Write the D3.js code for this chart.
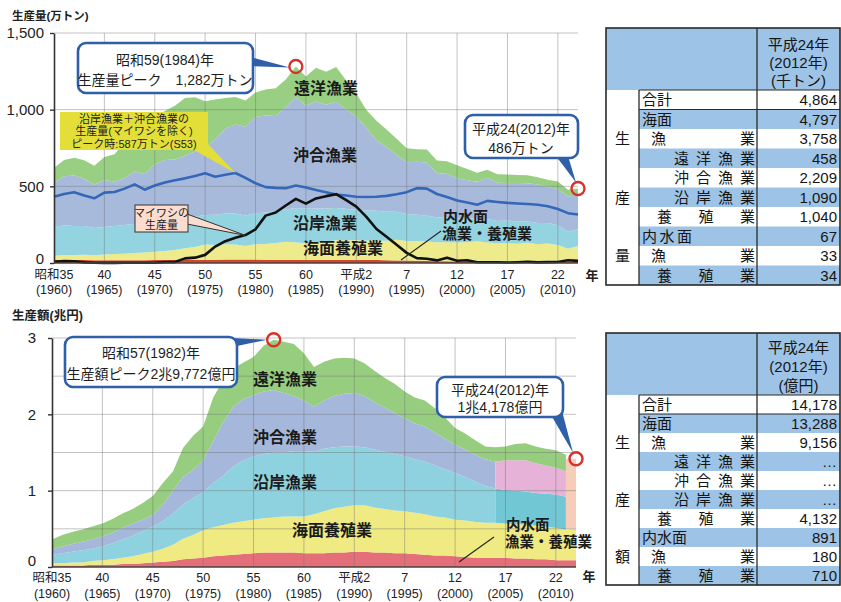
<!DOCTYPE html>
<html lang="ja">
<head>
<meta charset="utf-8">
<title>漁業・養殖業の生産量と生産額</title>
<script src="https://cdn.jsdelivr.net/npm/d3@7/dist/d3.min.js"></script>
<style>
  html, body { margin: 0; padding: 0; background: #fff; }
  svg { display: block; }
</style>
</head>
<body>
<svg id="chart" width="841" height="602"></svg>
<script>
// ===== data =====
const years = [1960,1961,1962,1963,1964,1965,1966,1967,1968,1969,
               1970,1971,1972,1973,1974,1975,1976,1977,1978,1979,
               1980,1981,1982,1983,1984,1985,1986,1987,1988,1989,
               1990,1991,1992,1993,1994,1995,1996,1997,1998,1999,
               2000,2001,2002,2003,2004,2005,2006,2007,2008,2009,
               2010,2011,2012];

const tickYears   = [1960,1965,1970,1975,1980,1985,1990,1995,2000,2005,2010];
const eraLabels   = ["昭和35","40","45","50","55","60","平成2","7","12","17","22"];
const westLabels  = ["(1960)","(1965)","(1970)","(1975)","(1980)","(1985)","(1990)","(1995)","(2000)","(2005)","(2010)"];

// production volume, 10,000 t
const qtyInland      = [19,19,19,19,18,18,18,18,18,18, 19,19,20,21,22,22,22,23,23,23, 23,22,22,22,21,20,20,20,21,21, 21,20,19,18,17,16,15,13,12,11, 10,10,9,9,8,8,8,8,8,7, 7,6,6.7];
const qtyAquaculture = [29,31,33,35,33,37,40,43,48,51, 55,59,64,75,82,98,96,100,97,88, 99,102,109,117,113,109,116,119,127,127, 127,126,127,127,134,127,128,127,123,125, 123,126,133,125,121,121,118,124,115,120, 111,87,104.0];
const qtyCoastal     = [190,195,190,188,178,180,183,187,190,185, 189,192,195,199,197,193,197,200,203,198, 203,205,207,212,223,227,220,217,210,205, 199,196,194,190,184,176,172,170,162,159, 158,154,148,153,145,148,143,141,138,134, 129,112,109.0];
const qtyOffshore    = [284,321,329,308,281,306,289,307,341,327, 379,401,396,405,425,442,491,553,580,580, 627,633,621,666,725,671,698,676,694,648, 608,538,460,422,369,338,345,345,290,285, 261,249,240,267,250,245,253,247,251,235, 236,229,220.9];
const qtyDistant     = [97,105,115,120,125,150,180,230,270,280, 290,320,350,376,355,300,260,200,180,170, 160,170,180,180,200,190,220,215,227,190, 150,118,127,114,106,92,82,86,81,83, 86,74,58,54,54,55,52,52,47,47, 48,43,45.8];
// coastal + offshore excluding sardine, 10,000 t
const qtyExSardine   = [432,450,462,440,422,459,463,485,513,478, 505,525,540,552,568,585,563,575,587,555, 520,495,490,488,505,492,476,462,447,440, 432,430,432,438,448,462,488,485,450,430, 408,395,380,405,398,392,388,385,380,370, 352,325,316];
// Japanese sardine catch, 10,000 t
const qtySardine     = [8,13,11,4,2,1,1,2,2,2, 2,6,6,30,35,53,107,142,164,182, 220,309,329,375,418,387,421,436,449,410, 368,301,222,171,119,66,32,28,17,35, 15,18,5,5,5,3,5,8,4,6, 7,18,14];

// production value, trillion yen (inland and aquaculture to 2012, the others to 2011)
const valInland      = [.02,.02,.02,.02,.03,.03,.03,.04,.04,.05, .06,.07,.08,.10,.11,.12,.14,.15,.16,.17, .18,.19,.19,.19,.19,.18,.18,.18,.19,.19, .20,.20,.19,.19,.18,.18,.17,.16,.15,.15, .14,.13,.12,.12,.12,.12,.11,.11,.10,.10, .09,.09,.0891];
const valAquaculture = [.03,.03,.04,.04,.05,.06,.07,.08,.10,.12, .14,.17,.21,.27,.31,.36,.38,.40,.42,.43, .44,.45,.46,.47,.47,.48,.51,.55,.58,.60, .61,.61,.59,.57,.56,.55,.54,.53,.51,.50, .48,.48,.47,.46,.46,.45,.45,.45,.44,.43, .42,.40,.4132];
const valCoastal     = [.11,.13,.14,.16,.16,.18,.21,.24,.27,.30, .33,.36,.41,.45,.48,.50,.58,.65,.74,.80, .83,.84,.85,.84,.86,.86,.82,.82,.80,.79, .77,.76,.76,.75,.74,.72,.70,.69,.67,.63, .61,.57,.53,.48,.45,.44,.44,.43,.43,.43, .44,.43];
const valOffshore    = [.07,.09,.10,.11,.12,.13,.14,.15,.16,.15, .15,.22,.30,.36,.37,.42,.55,.70,.78,.80, .80,.82,.82,.78,.72,.66,.59,.63,.67,.69, .70,.67,.62,.58,.54,.50,.47,.46,.43,.40, .37,.36,.35,.35,.35,.39,.40,.41,.39,.37, .35,.33];
const valDistant     = [.13,.15,.16,.16,.17,.17,.18,.19,.19,.22, .25,.28,.25,.38,.45,.44,.57,.55,.50,.48, .50,.60,.6572,.67,.68,.62,.52,.51,.49,.47, .45,.43,.41,.39,.38,.35,.34,.34,.32,.28, .22,.21,.19,.17,.19,.18,.21,.22,.22,.22, .23,.22];
// 2012 marine fisheries total (no breakdown), trillion yen
const valFisheries2012 = 0.9156;

const qtyTicks = [0, 500, 1000, 1500];
const valTicks = [0, 1, 2, 3];
const valGrid  = [0.5, 1, 1.5, 2, 2.5, 3];

// tables (2012)
const tableLabels = ["合計","海面","漁業","遠洋漁業","沖合漁業","沿岸漁業","養殖業","内水面","漁業","養殖業"];
const qtyTable = ["4,864","4,797","3,758","458","2,209","1,090","1,040","67","33","34"];
const valTable = ["14,178","13,288","9,156","…","…","…","4,132","891","180","710"];

// ===== drawing =====
const FONT = '"Liberation Sans","Noto Sans CJK JP",sans-serif';
const svg = d3.select("#chart").attr("font-family", FONT);
const keys = ["inland", "aquaculture", "coastal", "offshore", "distant"];

const topColor = { inland: "#d6462b", aquaculture: "#eeeb8d", coastal: "#94d4e1", offshore: "#a8badc", distant: "#99cf82" };
const botColor = { inland: "#e56f78", aquaculture: "#efea82", coastal: "#8fd2df", offshore: "#a5b7da", distant: "#97cd7e" };
const GRID = "#6f6f6f";
const BOXBLUE = "#2f5fa9";
const RED = "#d8302a";

function gridLines(g, x, y, hVals, vVals) {
  g.append("g").selectAll("line").data(hVals).join("line")
    .attr("x1", x.range()[0]).attr("x2", x.range()[1])
    .attr("y1", d => y(d)).attr("y2", d => y(d))
    .attr("stroke", GRID).attr("stroke-opacity", 0.42).attr("stroke-width", 1);
  g.append("g").selectAll("line").data(vVals).join("line")
    .attr("x1", d => x(d)).attr("x2", d => x(d))
    .attr("y1", y.range()[0]).attr("y2", y.range()[1])
    .attr("stroke", GRID).attr("stroke-opacity", 0.42).attr("stroke-width", 1);
}

function yAxis(g, x, y, ticks, fmt, pad, zeroLift) {
  g.append("g").attr("transform", `translate(${x.range()[0]},0)`)
    .call(d3.axisLeft(y).tickValues(ticks).tickFormat(fmt).tickSize(4).tickSizeOuter(0).tickPadding(pad))
    .call(a => {
      a.attr("font-family", FONT);
      a.select(".domain").attr("stroke", "#333").attr("stroke-width", 1.6);
      a.selectAll(".tick line").attr("stroke", "#333").attr("stroke-width", 1.4);
      a.selectAll("text").attr("font-size", 15).attr("fill", "#222");
      a.selectAll(".tick").filter(d => d === 0).select("text").attr("y", -zeroLift);
    });
}

function xAxis(g, x, y, base1, base2, yearMarkX, yearMarkY) {
  g.append("line").attr("x1", x.range()[0]).attr("x2", x.range()[1])
    .attr("y1", y(0)).attr("y2", y(0)).attr("stroke", "#444").attr("stroke-width", 1.4);
  const t = g.append("g").attr("font-size", 12.5).attr("fill", "#222").attr("text-anchor", "middle");
  t.selectAll("text.era").data(tickYears).join("text").attr("class", "era")
    .attr("x", d => x(d)).attr("y", base1).text((d, i) => eraLabels[i]);
  t.selectAll("text.west").data(tickYears).join("text").attr("class", "west")
    .attr("x", d => x(d)).attr("y", base2).text((d, i) => westLabels[i]);
  g.append("text").attr("x", yearMarkX).attr("y", yearMarkY).attr("font-size", 13)
    .attr("font-weight", 700).attr("text-anchor", "middle").attr("fill", "#222").text("年");
}

function label(g, x, y, txt, size, anchor) {
  return g.append("text").attr("x", x).attr("y", y).attr("font-size", size || 16)
    .attr("font-weight", 700).attr("fill", "#1b1b1b").attr("text-anchor", anchor || "start").text(txt);
}

function noteBox(g, x, y, w, h, ptr, lines, cx, baselines) {
  g.append("polygon").attr("points", ptr.map(p => p.join(",")).join(" ")).attr("fill", BOXBLUE);
  g.append("rect").attr("x", x).attr("y", y).attr("width", w).attr("height", h).attr("rx", 8)
    .attr("fill", "#fff").attr("stroke", BOXBLUE).attr("stroke-width", 2.6);
  lines.forEach((s, i) => {
    g.append("text").attr("x", cx).attr("y", baselines[i]).attr("font-size", 14)
      .attr("text-anchor", "middle").attr("fill", "#1e1e1e").text(s);
  });
}

function ring(g, cx, cy) {
  g.append("circle").attr("cx", cx).attr("cy", cy).attr("r", 6.5)
    .attr("fill", "none").attr("stroke", RED).attr("stroke-width", 2.4);
}

// ---------- production volume ----------
{
  const x = d3.scaleLinear().domain([1960, 2012]).range([54, 578]);
  const y = d3.scaleLinear().domain([0, 1500]).range([263, 33]);
  const g = svg.append("g");

  const rows = years.map((year, i) => ({
    year, inland: qtyInland[i], aquaculture: qtyAquaculture[i], coastal: qtyCoastal[i],
    offshore: qtyOffshore[i], distant: qtyDistant[i]
  }));
  const layers = d3.stack().keys(keys)(rows);
  const area = d3.area().x(p => x(p.data.year)).y0(p => y(p[0])).y1(p => y(p[1]));
  g.selectAll("path.layer").data(layers).join("path").attr("class", "layer")
    .attr("fill", d => topColor[d.key]).attr("d", area);

  gridLines(g, x, y, [500, 1000, 1500], tickYears.slice(1));

  const line = d3.line().x(d => x(d[0])).y(d => y(d[1]));
  g.append("path").datum(years.map((yr, i) => [yr, qtyExSardine[i]])).attr("d", line)
    .attr("fill", "none").attr("stroke", "#3567b8").attr("stroke-width", 2.6).attr("stroke-linejoin", "round");
  g.append("path").datum(years.map((yr, i) => [yr, qtySardine[i]])).attr("d", line)
    .attr("fill", "none").attr("stroke", "#111").attr("stroke-width", 2.6).attr("stroke-linejoin", "round");

  yAxis(g, x, y, qtyTicks, d3.format(","), 6, 4);
  xAxis(g, x, y, 279, 294, 592, 280);
  g.append("text").attr("x", 12).attr("y", 20).attr("font-size", 11.5).attr("font-weight", 700)
    .attr("fill", "#222").text("生産量(万トン)");

  label(g, 294, 94, "遠洋漁業");
  label(g, 293, 161, "沖合漁業");
  label(g, 293, 229, "沿岸漁業");
  label(g, 303, 254, "海面養殖業");
  label(g, 443, 222, "内水面", 15);
  label(g, 442, 239, "漁業・養殖業", 15);
  g.append("line").attr("x1", 441).attr("y1", 231).attr("x2", 401).attr("y2", 260)
    .attr("stroke", "#222").attr("stroke-width", 1.1);

  // coastal + offshore peak callout
  const peakYear = 1978, peakVal = 587;
  g.append("polygon").attr("points", [[194, 150], [208, 144], [x(peakYear), y(peakVal)]].map(p => p.join(",")).join(" "))
    .attr("fill", "#e3df38");
  g.append("rect").attr("x", 60).attr("y", 112).attr("width", 148).attr("height", 38).attr("fill", "#e3df38");
  ["沿岸漁業＋沖合漁業の", "生産量(マイワシを除く)", "ピーク時:587万トン(S53)"].forEach((s, i) => {
    g.append("text").attr("x", 134).attr("y", 122.5 + i * 12.5).attr("font-size", 11)
      .attr("text-anchor", "middle").attr("fill", "#222").text(s);
  });

  // sardine callout
  g.append("polygon").attr("points", [[187, 214], [187, 224], [x(1979), y(180)]].map(p => p.join(",")).join(" "))
    .attr("fill", "#fbdccf").attr("stroke", "#333").attr("stroke-width", 1);
  g.append("rect").attr("x", 135).attr("y", 205).attr("width", 53).attr("height", 27)
    .attr("fill", "#fbdccf").attr("stroke", "#333").attr("stroke-width", 1);
  ["マイワシの", "生産量"].forEach((s, i) => {
    g.append("text").attr("x", 161.5).attr("y", 216.5 + i * 12.5).attr("font-size", 11)
      .attr("text-anchor", "middle").attr("fill", "#222").text(s);
  });

  const peak = { year: 1984, total: 1282 };
  const last = { year: 2012, total: 486 };
  noteBox(g, 78, 43, 175, 50, [[246, 56], [246, 66], [x(peak.year) - 6, y(peak.total) + 1]],
    ["昭和59(1984)年", "生産量ピーク　1,282万トン"], 165, [65, 85]);
  ring(g, x(peak.year), y(peak.total));
  noteBox(g, 465, 115, 113, 43, [[556, 156], [568, 156], [x(last.year) - 2, y(last.total) - 6]],
    ["平成24(2012)年", "486万トン"], 521, [134, 153]);
  ring(g, x(last.year), y(last.total));
}

// ---------- production value ----------
{
  const x = d3.scaleLinear().domain([1960, 2012]).range([52, 576]);
  const y = d3.scaleLinear().domain([0, 3]).range([567, 338]);
  const g = svg.append("g");
  const area = d3.area().x(p => x(p.data.year)).y0(p => y(p[0])).y1(p => y(p[1]));

  // inland + aquaculture through 2012
  const baseRows = years.map((year, i) => ({ year, inland: valInland[i], aquaculture: valAquaculture[i] }));
  const baseLayers = d3.stack().keys(["inland", "aquaculture"])(baseRows);
  g.selectAll("path.base").data(baseLayers).join("path").attr("class", "base")
    .attr("fill", d => botColor[d.key]).attr("d", area);

  // full breakdown through 2011
  const rows = years.slice(0, valCoastal.length).map((year, i) => ({
    year, inland: valInland[i], aquaculture: valAquaculture[i], coastal: valCoastal[i],
    offshore: valOffshore[i], distant: valDistant[i]
  }));
  const layers = d3.stack().keys(keys)(rows);
  const splitYear = 2004;
  layers.filter(l => l.key === "coastal" || l.key === "offshore" || l.key === "distant").forEach(l => {
    if (l.key === "distant") {
      g.append("path").datum(l).attr("fill", botColor.distant).attr("d", area);
      return;
    }
    const early = l.filter(p => p.data.year <= splitYear);
    const late = l.filter(p => p.data.year >= splitYear);
    g.append("path").datum(early).attr("fill", botColor[l.key]).attr("d", area);
    g.append("path").datum(late).attr("fill", l.key === "offshore" ? "#e6b2d7" : "#72c7d5").attr("d", area);
  });

  // 2012: marine fisheries without breakdown
  const i12 = years.indexOf(2012);
  const base12 = valInland[i12] + valAquaculture[i12];
  g.append("rect").attr("x", x(2011)).attr("width", x(2012) - x(2011))
    .attr("y", y(base12 + valFisheries2012)).attr("height", y(base12) - y(base12 + valFisheries2012))
    .attr("fill", "#f6cdb9");

  gridLines(g, x, y, valGrid, tickYears.slice(1));
  yAxis(g, x, y, valTicks, d3.format("d"), 12, 6);
  xAxis(g, x, y, 582, 598, 589, 581);
  g.append("text").attr("x", 12).attr("y", 320).attr("font-size", 12.5).attr("font-weight", 700)
    .attr("fill", "#222").text("生産額(兆円)");

  label(g, 253, 385, "遠洋漁業");
  label(g, 253, 443, "沖合漁業");
  label(g, 253, 488, "沿岸漁業");
  label(g, 292, 536, "海面養殖業");
  label(g, 506, 530, "内水面", 14.5);
  label(g, 505, 547, "漁業・養殖業", 14.5);
  g.append("line").attr("x1", 494).attr("y1", 537).attr("x2", 459).attr("y2", 562)
    .attr("stroke", "#222").attr("stroke-width", 1.1);

  const peak = { year: 1982, total: 2.9772 };
  const last = { year: 2012, total: base12 + valFisheries2012 };
  noteBox(g, 65, 337, 172, 50, [[232, 338], [232, 347], [x(peak.year) - 6.5, y(peak.total)]],
    ["昭和57(1982)年", "生産額ピーク2兆9,772億円"], 151, [358, 379]);
  ring(g, x(peak.year), y(peak.total));
  noteBox(g, 437, 377, 126, 40, [[551, 415], [562, 411], [x(last.year) - 3, y(last.total) - 6]],
    ["平成24(2012)年", "1兆4,178億円"], 500, [395, 412]);
  ring(g, x(last.year), y(last.total));
}

// ---------- 2012 tables ----------
const STRIPE = "#9dc3e6";
const rowLabelLayout = [
  { x: 642 }, { x: 642 }, { x: 651, w: 104 }, { x: 674, w: 81 }, { x: 674, w: 81 },
  { x: 674, w: 81 }, { x: 657, w: 98 }, { x: 642, w: 50 }, { x: 651, w: 104 }, { x: 657, w: 98 }
];

function drawTable(t) {
  const g = svg.append("g").attr("font-size", 15).attr("fill", "#151515");
  const bottom = t.headBottom + t.rowH * t.values.length;
  g.append("rect").attr("x", t.x0).attr("y", t.top).attr("width", t.x1 - t.x0)
    .attr("height", t.headBottom - t.top).attr("fill", STRIPE);
  t.values.forEach((v, i) => {
    const ry = t.headBottom + i * t.rowH;
    if (i % 2 === 1) {
      g.append("rect").attr("x", t.xIn).attr("y", ry).attr("width", t.x1 - t.xIn)
        .attr("height", t.rowH).attr("fill", STRIPE);
    }
    const lay = t.layout[i];
    const lt = g.append("text").attr("x", lay.x).attr("y", ry + t.rowH / 2 + 5.5).text(tableLabels[i]);
    if (lay.w) lt.attr("textLength", lay.w).attr("lengthAdjust", "spacing");
    g.append("text").attr("x", t.x1 - 3).attr("y", ry + t.rowH / 2 + 5.5)
      .attr("text-anchor", "end").text(v);
  });
  // lines
  const ln = (x1, y1, x2, y2, w) => g.append("line").attr("x1", x1).attr("y1", y1).attr("x2", x2).attr("y2", y2)
    .attr("stroke", "#2a2a2a").attr("stroke-width", w || 1);
  ln(t.xIn, t.headBottom, t.x1, t.headBottom, 1);
  ln(t.xIn, t.headBottom + t.rowH, t.x1, t.headBottom + t.rowH, 1);
  ln(t.xIn, t.headBottom, t.xIn, bottom, 1.3);
  ln(t.xVal, t.top, t.xVal, bottom, 1.3);
  g.append("rect").attr("x", t.x0).attr("y", t.top).attr("width", t.x1 - t.x0).attr("height", bottom - t.top)
    .attr("fill", "none").attr("stroke", "#2a2a2a").attr("stroke-width", 1.6);
  // header
  t.head.forEach((s, i) => {
    g.append("text").attr("x", (t.xVal + t.x1) / 2).attr("y", t.headBase[i])
      .attr("text-anchor", "middle").text(s);
  });
  // side caption
  t.side.forEach((s, i) => {
    const ry = t.headBottom + t.sideRows[i] * t.rowH + t.rowH / 2 + 5.5;
    g.append("text").attr("x", (t.x0 + t.xIn) / 2).attr("y", ry).attr("text-anchor", "middle").text(s);
  });
}

drawTable({
  x0: 606, x1: 840, xIn: 639, xVal: 757, top: 28, headBottom: 90, rowH: 19.5,
  values: qtyTable, layout: rowLabelLayout,
  head: ["平成24年", "(2012年)", "(千トン)"], headBase: [50, 68, 86],
  side: ["生", "産", "量"], sideRows: [2, 5, 8]
});
drawTable({
  x0: 606, x1: 840, xIn: 639, xVal: 757, top: 333, headBottom: 395, rowH: 19,
  values: valTable, layout: rowLabelLayout.map((l, i) => i === 7 ? { x: 642 } : l),
  head: ["平成24年", "(2012年)", "(億円)"], headBase: [353, 372, 391],
  side: ["生", "産", "額"], sideRows: [2, 5, 8]
});
</script>
</body>
</html>
